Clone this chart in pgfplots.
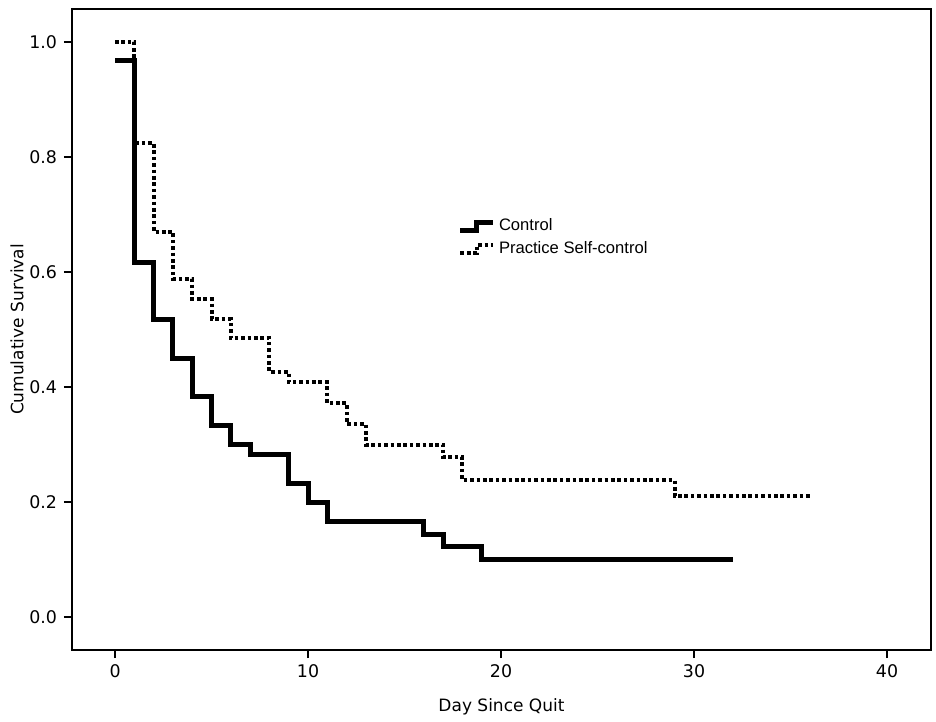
\documentclass[border=0pt]{standalone}
\usepackage{fontspec}
\setmainfont{DejaVu Sans}
\newfontfamily\legfont{Liberation Sans}
\usepackage{pgfplots}
\pgfplotsset{compat=1.18}
\begin{document}
\begin{tikzpicture}
\path[use as bounding box] (-36pt,-36pt) rectangle (432pt,325pt);
\begin{axis}[
  at={(0pt,0pt)}, anchor=south west,
  scale only axis,
  width=429.5pt, height=320.5pt,
  xmin=-2.23, xmax=42.28,
  ymin=-0.057, ymax=1.057,
  xtick={0,10,20,30,40},
  ytick={0,0.2,0.4,0.6,0.8,1.0},
  yticklabel style={/pgf/number format/.cd,fixed,fixed zerofill,precision=1},
  /pgf/number format/assume math mode=true,
  xtick pos=left, ytick pos=left,
  tick align=outside,
  major tick length=4pt,
  tick style={line width=0.9pt,black},
  axis line style={line width=1.2pt,black},
  ticklabel style={font=\fontsize{8.7}{10}\selectfont},
  xlabel={Day Since Quit},
  ylabel={Cumulative Survival},
  label style={font=\fontsize{8.5}{10}\selectfont},
  xlabel style={yshift=-3.5pt},
  ylabel style={yshift=-4pt},
  clip=false,
  legend image code/.code={\draw[#1] (0pt,-2pt) -- (8pt,-2pt) -- (8pt,2pt) -- (16pt,2pt);},
  legend style={draw=none, fill=none, at={(axis cs:17.75,0.70)}, anchor=north west,
    font=\legfont\fontsize{8.3}{9.5}\selectfont, inner sep=0pt, row sep=0pt,
    /tikz/every even column/.append style={column sep=0pt}},
  legend cell align=left,
]
\addplot[const plot, black, line width=2.5pt] coordinates {
(0,0.967) (1,0.617) (2,0.517) (3,0.45) (4,0.383) (5,0.333) (6,0.3) (7,0.283)
(9,0.233) (10,0.2) (11,0.167) (16,0.143) (17,0.123) (19,0.1) (32,0.1)};
\addlegendentry{Control}
\addplot[const plot, black, line width=2pt, dash pattern=on 1.8pt off 1.4pt] coordinates {
(0,1.0) (1,0.824) (2,0.67) (3,0.588) (4,0.553) (5,0.518) (6,0.485) (8,0.426)
(9,0.408) (11,0.372) (12,0.336) (13,0.3) (17,0.278) (18,0.238) (29,0.21) (36,0.21)};
\addlegendentry{Practice Self-control}
\end{axis}
\end{tikzpicture}
\end{document}
